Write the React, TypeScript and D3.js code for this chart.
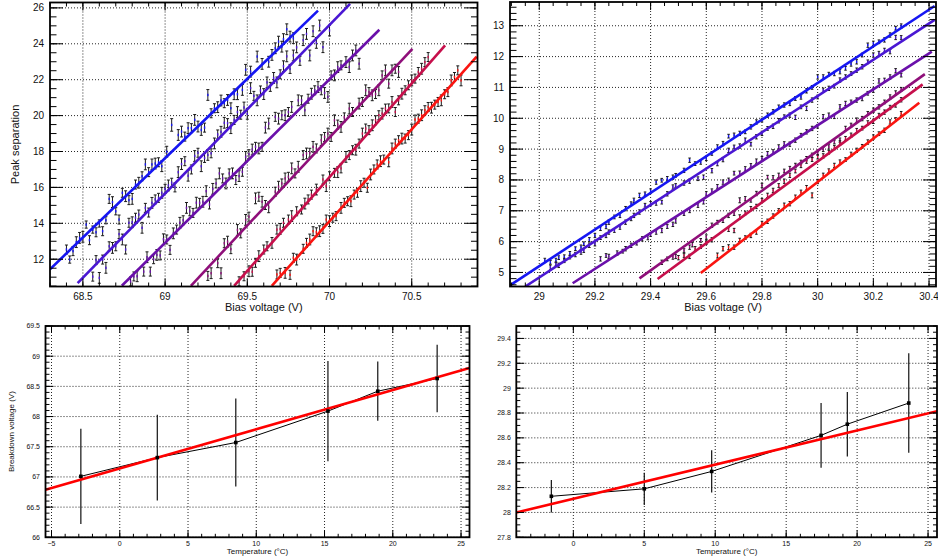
import React from "react";
import * as d3 from "d3";

type Pt = [number, number, number]; // [x, y, y-error]
type Seg = [number, number, number, number]; // fit drawn from (x0,y0) to (x1,y1)

// ---------- Device A: peak separation vs bias voltage, one series per temperature ----------
const sepA1: Pt[] = [
  [68.40,12.54,.25],[68.42,11.98,.2],[68.44,12.45,.25],[68.46,12.95,.3],[68.48,13.19,.3],[68.50,13.25,.3],[68.52,13.93,.2],[68.54,13.06,.25],[68.56,13.65,.2],[68.58,13.50,.25],
  [68.60,13.99,.2],[68.62,13.56,.25],[68.64,14.17,.2],[68.66,15.36,.25],[68.68,15.18,.3],[68.70,14.67,.2],[68.72,14.21,.25],[68.74,15.70,.25],[68.76,15.51,.3],[68.78,15.29,.25],
  [68.80,15.36,.3],[68.82,16.16,.25],[68.84,16.26,.3],[68.86,16.62,.25],[68.88,17.28,.3],[68.90,16.85,.25],[68.92,17.28,.3],[68.94,17.33,.3],[68.96,17.40,.25],[68.98,17.18,.3],
  [69.01,17.99,.3],[69.04,19.48,.35],[69.08,18.92,.3],[69.10,19.11,.3],[69.12,18.83,.25],[69.14,19.30,.3],[69.16,19.30,.25],[69.18,19.76,.3],[69.20,19.39,.3],[69.22,19.20,.3],
  [69.24,19.33,.25],[69.26,21.15,.3],[69.28,20.13,.25],[69.30,20.41,.25],[69.32,20.47,.3],[69.34,20.84,.3],[69.36,20.69,.25],[69.38,20.87,.3],[69.40,20.41,.3],[69.42,21.19,.3],
  [69.44,21.19,.3],[69.47,21.43,.3],[69.49,22.55,.3],[69.52,22.45,.3],[69.56,23.29,.3],[69.59,22.88,.3],[69.63,23.00,.3],[69.65,23.38,.3],[69.67,23.75,.3],[69.69,24.12,.3],
  [69.71,23.84,.3],[69.72,24.26,.3],[69.74,24.81,.3],[69.76,24.40,.3],[69.78,24.31,.3],
];
const sepA2: Pt[] = [
  [68.56,11.03,.25],[68.58,11.95,.25],[68.60,10.96,.3],[68.62,11.98,.25],[68.64,11.52,.3],[68.66,12.72,.25],[68.68,12.63,.3],[68.70,12.72,.25],[68.72,13.40,.25],[68.74,13.10,.3],
  [68.76,12.54,.25],[68.78,14.03,.25],[68.80,14.06,.3],[68.82,14.31,.25],[68.84,14.49,.25],[68.86,13.75,.3],[68.88,14.86,.25],[68.90,14.60,.25],[68.92,15.14,.3],[68.94,15.33,.25],
  [68.96,15.42,.25],[68.98,15.70,.3],[69.00,15.92,.25],[69.02,16.11,.3],[69.04,16.26,.25],[69.06,16.00,.25],[69.08,16.85,.3],[69.10,17.30,.3],[69.12,17.46,.25],[69.14,16.65,.3],
  [69.16,17.00,.25],[69.18,17.75,.3],[69.20,17.93,.25],[69.22,17.18,.3],[69.24,17.64,.25],[69.26,17.81,.3],[69.28,17.90,.25],[69.30,18.45,.3],[69.32,18.95,.25],[69.34,19.10,.3],
  [69.36,19.60,.3],[69.38,19.58,.25],[69.40,19.30,.3],[69.42,19.76,.25],[69.44,20.20,.3],[69.46,20.05,.25],[69.48,20.45,.3],[69.50,20.10,.3],[69.52,21.53,.3],[69.54,21.10,.25],
  [69.56,20.85,.3],[69.58,21.40,.25],[69.60,21.20,.3],[69.62,21.85,.3],[69.64,21.60,.25],[69.66,22.10,.3],[69.68,21.85,.3],[69.70,22.30,.25],[69.72,22.75,.3],[69.74,23.30,.3],
  [69.76,22.60,.25],[69.78,23.35,.3],[69.80,23.80,.3],[69.82,23.05,.25],[69.84,24.20,.3],[69.86,24.55,.3],[69.88,23.35,.3],[69.90,24.70,.3],[69.92,24.05,.3],[69.94,25.02,.3],
  [69.96,23.81,.3],[70.00,24.74,.3],
];
const sepA3: Pt[] = [
  [68.79,10.76,.25],[68.81,11.04,.25],[68.83,11.05,.3],[68.87,11.31,.25],[68.89,12.11,.3],[68.91,11.31,.25],[68.93,12.00,.25],[68.95,12.24,.3],[68.97,12.21,.25],[68.99,13.11,.3],
  [69.01,13.10,.25],[69.03,12.52,.25],[69.05,13.44,.3],[69.07,13.65,.25],[69.09,14.03,.3],[69.11,14.17,.25],[69.13,14.86,.3],[69.15,14.67,.25],[69.17,14.58,.25],[69.19,15.15,.3],
  [69.21,15.14,.25],[69.23,15.20,.3],[69.25,15.79,.3],[69.27,15.05,.25],[69.29,15.92,.3],[69.31,16.22,.25],[69.33,16.78,.3],[69.35,16.50,.25],[69.37,16.22,.3],[69.39,16.78,.25],
  [69.41,16.78,.3],[69.43,16.41,.25],[69.45,16.63,.3],[69.47,16.87,.25],[69.49,17.70,.3],[69.51,17.85,.25],[69.53,18.11,.3],[69.55,18.26,.25],[69.57,18.17,.3],[69.59,18.26,.25],
  [69.61,19.33,.3],[69.63,19.56,.3],[69.67,19.93,.25],[69.69,19.83,.3],[69.71,20.02,.25],[69.73,20.02,.3],[69.75,20.20,.25],[69.77,20.48,.3],[69.81,20.85,.3],[69.83,20.85,.25],
  [69.85,20.30,.3],[69.87,20.94,.25],[69.89,21.22,.3],[69.91,21.41,.25],[69.93,21.59,.3],[69.95,21.41,.25],[69.97,21.26,.3],[69.99,21.04,.3],[70.01,22.24,.25],[70.03,22.24,.3],
  [70.05,22.70,.3],[70.07,22.80,.25],[70.10,22.98,.3],[70.12,22.70,.3],[70.14,23.35,.3],[70.16,23.63,.3],[70.18,22.89,.3],
];
const sepA4: Pt[] = [
  [69.26,11.07,.25],[69.28,11.22,.3],[69.32,11.78,.25],[69.34,11.22,.3],[69.36,12.89,.25],[69.38,12.98,.3],[69.40,12.56,.25],[69.44,13.63,.3],[69.46,13.44,.25],[69.49,14.19,.3],
  [69.51,14.37,.25],[69.55,15.39,.3],[69.57,15.48,.25],[69.59,15.20,.3],[69.61,15.02,.25],[69.63,14.89,.3],[69.67,15.76,.25],[69.69,16.04,.3],[69.71,16.22,.25],[69.73,16.50,.3],
  [69.75,16.59,.25],[69.77,17.06,.3],[69.79,16.78,.25],[69.81,17.15,.3],[69.84,17.80,.25],[69.86,17.89,.3],[69.88,17.93,.25],[69.90,18.26,.3],[69.92,18.17,.25],[69.95,18.63,.3],
  [69.97,18.81,.25],[69.99,19.00,.3],[70.01,18.81,.25],[70.03,19.74,.3],[70.05,19.50,.25],[70.07,19.37,.3],[70.09,19.90,.25],[70.12,20.39,.3],[70.14,20.20,.25],[70.18,20.67,.3],
  [70.20,20.76,.25],[70.22,21.41,.3],[70.24,21.31,.25],[70.26,21.13,.3],[70.28,21.20,.25],[70.30,21.41,.3],[70.32,22.24,.25],[70.34,22.52,.3],[70.36,21.78,.25],[70.38,22.52,.3],
  [70.40,22.61,.25],[70.42,22.43,.3],
];
const sepA5: Pt[] = [
  [69.45,10.77,.25],[69.48,11.05,.25],[69.51,11.33,.3],[69.53,11.30,.25],[69.55,11.80,.25],[69.57,12.17,.3],[69.60,12.54,.25],[69.62,12.72,.25],[69.65,12.91,.3],[69.68,13.65,.25],
  [69.70,13.69,.3],[69.72,14.03,.25],[69.75,14.21,.25],[69.77,14.40,.3],[69.80,14.67,.25],[69.83,14.77,.25],[69.85,15.10,.3],[69.87,15.33,.25],[69.89,15.60,.25],[69.92,15.88,.3],
  [69.96,16.44,.25],[69.98,16.07,.3],[70.00,16.62,.25],[70.03,16.81,.25],[70.05,16.85,.3],[70.07,17.06,.25],[70.10,17.70,.3],[70.12,17.80,.25],[70.14,18.07,.25],[70.16,18.10,.3],
  [70.18,18.44,.25],[70.20,19.00,.3],[70.22,19.28,.25],[70.24,19.19,.25],[70.26,19.46,.3],[70.28,19.74,.25],[70.30,20.02,.25],[70.32,20.11,.3],[70.34,20.39,.25],[70.36,20.40,.25],
  [70.38,20.76,.3],[70.40,20.20,.25],[70.42,20.85,.25],[70.44,21.22,.3],[70.46,21.41,.25],[70.48,21.69,.25],[70.50,21.96,.3],[70.52,22.06,.25],[70.54,22.43,.25],[70.56,22.61,.3],
  [70.58,22.98,.25],[70.60,23.26,.25],
];
const sepA6: Pt[] = [
  [69.68,11.15,.25],[69.70,11.24,.25],[69.73,11.24,.3],[69.76,11.13,.25],[69.78,12.08,.25],[69.80,11.98,.3],[69.84,12.58,.25],[69.86,12.91,.25],[69.88,13.10,.3],[69.90,13.56,.25],
  [69.92,13.50,.25],[69.94,13.56,.3],[69.96,13.69,.25],[69.98,14.21,.25],[70.00,14.12,.3],[70.02,14.31,.25],[70.04,14.40,.25],[70.07,14.86,.3],[70.09,15.14,.25],[70.11,15.23,.25],
  [70.13,15.23,.3],[70.15,15.60,.25],[70.17,15.70,.25],[70.19,16.07,.3],[70.21,16.26,.25],[70.23,15.98,.25],[70.25,16.72,.3],[70.27,17.00,.25],[70.29,17.28,.25],[70.31,17.46,.3],
  [70.33,17.55,.25],[70.36,17.40,.25],[70.38,18.17,.3],[70.40,18.44,.25],[70.42,18.63,.25],[70.44,18.72,.3],[70.46,18.72,.25],[70.48,18.91,.25],[70.50,19.22,.3],[70.52,19.78,.25],
  [70.54,19.83,.25],[70.56,20.02,.3],[70.58,20.30,.25],[70.60,20.48,.25],[70.62,20.44,.3],[70.64,20.61,.25],[70.66,20.76,.25],[70.68,20.85,.3],[70.70,21.19,.25],[70.72,21.31,.25],
  [70.74,21.96,.3],[70.76,22.15,.25],[70.78,22.52,.25],[70.80,21.96,.3],
];
const fitsA: Seg[] = [
  [68.30, 11.44, 69.93, 25.85],
  [68.468, 10.67, 70.125, 26.22],
  [68.737, 10.52, 70.303, 24.78],
  [69.157, 10.52, 70.504, 23.72],
  [69.42, 10.52, 70.703, 23.91],
  [69.649, 10.52, 70.895, 23.28],
];

// ---------- Device B: peak separation vs bias voltage ----------
const sepB1: Pt[] = [
  [29.02,5.39,.07],[29.04,5.33,.06],[29.06,5.39,.07],[29.07,5.48,.06],[29.09,5.50,.07],[29.11,5.61,.07],[29.13,5.77,.06],[29.15,5.82,.07],[29.16,5.93,.06],[29.18,6.06,.07],
  [29.20,6.20,.07],[29.22,6.42,.06],[29.24,6.49,.07],[29.25,6.63,.07],[29.27,6.80,.06],[29.29,6.85,.07],[29.31,7.07,.07],[29.33,7.23,.06],[29.34,7.34,.07],[29.36,7.50,.07],
  [29.38,7.55,.06],[29.40,7.64,.07],[29.42,7.93,.07],[29.44,7.99,.06],[29.46,8.04,.07],[29.48,8.09,.07],[29.49,8.15,.06],[29.52,8.31,.07],[29.54,8.64,.07],[29.56,8.53,.06],
  [29.58,8.58,.07],[29.60,8.70,.07],[29.62,8.86,.06],[29.64,9.07,.07],[29.66,9.18,.07],[29.68,9.42,.06],[29.70,9.45,.07],[29.72,9.51,.07],[29.74,9.56,.06],[29.76,9.72,.07],
  [29.78,9.88,.07],[29.80,9.94,.06],[29.82,10.10,.07],[29.84,10.21,.07],[29.86,10.37,.06],[29.88,10.43,.07],[29.90,10.48,.07],[29.92,10.64,.06],[29.94,10.69,.07],[29.96,10.89,.07],
  [29.98,11.00,.06],[30.00,11.34,.07],[30.02,11.34,.07],[30.04,11.43,.06],[30.06,11.45,.07],[30.08,11.51,.07],[30.10,11.62,.06],[30.12,11.76,.07],[30.14,11.83,.07],[30.16,12.05,.06],
  [30.18,12.37,.07],[30.20,12.43,.07],[30.22,12.48,.06],[30.24,12.54,.07],[30.26,12.70,.07],[30.28,12.92,.06],[30.30,12.99,.07],
];
const sepB2: Pt[] = [
  [29.04,5.17,.07],[29.06,5.28,.06],[29.07,5.23,.07],[29.09,5.39,.07],[29.11,5.50,.06],[29.13,5.58,.07],[29.15,5.66,.07],[29.16,5.71,.06],[29.18,5.88,.07],[29.20,5.93,.07],
  [29.22,6.13,.06],[29.24,6.20,.07],[29.25,6.31,.07],[29.27,6.36,.06],[29.29,6.47,.07],[29.31,6.63,.07],[29.33,6.74,.06],[29.34,6.85,.07],[29.36,6.96,.07],[29.38,7.18,.06],
  [29.40,7.23,.07],[29.42,7.25,.07],[29.44,7.28,.06],[29.46,7.55,.07],[29.48,7.77,.07],[29.49,7.82,.06],[29.52,7.90,.07],[29.54,7.96,.07],[29.57,8.04,.06],[29.59,8.09,.07],
  [29.62,8.30,.07],[29.64,8.52,.06],[29.66,8.66,.07],[29.68,8.96,.07],[29.70,9.07,.06],[29.72,9.10,.07],[29.74,9.29,.07],[29.76,9.16,.06],[29.78,9.40,.07],[29.80,9.51,.07],
  [29.82,9.67,.06],[29.84,9.74,.07],[29.86,9.92,.07],[29.88,10.05,.06],[29.90,10.10,.07],[29.92,10.03,.07],[29.94,10.37,.06],[29.96,10.32,.07],[29.98,10.59,.07],[30.00,10.69,.06],
  [30.02,10.91,.07],[30.04,10.97,.07],[30.06,11.04,.06],[30.08,11.24,.07],[30.10,11.34,.07],[30.12,11.45,.06],[30.14,11.56,.07],[30.16,11.67,.07],[30.18,11.83,.06],[30.20,12.05,.07],
  [30.22,12.10,.07],[30.24,12.21,.06],[30.26,12.16,.07],[30.28,12.62,.07],[30.30,12.62,.06],
];
const sepB3: Pt[] = [
  [29.22,5.44,.07],[29.24,5.55,.06],[29.25,5.52,.07],[29.28,5.63,.07],[29.30,5.69,.06],[29.31,5.77,.07],[29.33,5.88,.07],[29.35,5.95,.06],[29.37,6.09,.07],[29.39,6.13,.07],
  [29.40,6.23,.06],[29.42,6.31,.07],[29.44,6.36,.07],[29.46,6.49,.06],[29.48,6.56,.07],[29.49,6.67,.07],[29.52,6.91,.06],[29.54,7.01,.07],[29.57,7.18,.07],[29.59,7.28,.06],
  [29.60,7.55,.07],[29.62,7.64,.07],[29.64,7.79,.06],[29.66,7.93,.07],[29.68,7.99,.07],[29.70,8.22,.06],[29.72,8.22,.07],[29.74,8.36,.07],[29.76,8.47,.06],[29.78,8.61,.07],
  [29.80,8.69,.07],[29.82,8.86,.06],[29.84,8.91,.07],[29.86,9.07,.07],[29.88,9.18,.06],[29.90,9.16,.07],[29.92,9.29,.07],[29.94,9.45,.06],[29.96,9.56,.07],[29.98,9.67,.07],
  [30.00,9.74,.06],[30.02,10.05,.07],[30.04,10.10,.07],[30.06,10.05,.06],[30.08,10.37,.07],[30.10,10.48,.07],[30.12,10.53,.06],[30.14,10.59,.07],[30.16,10.64,.07],[30.18,10.81,.06],
  [30.20,10.91,.07],[30.22,11.21,.07],[30.24,11.24,.06],[30.26,11.34,.07],[30.28,11.54,.07],[30.30,11.40,.06],
];
const sepB4: Pt[] = [
  [29.44,5.33,.07],[29.46,5.44,.06],[29.48,5.50,.07],[29.49,5.52,.07],[29.52,5.71,.06],[29.54,5.82,.07],[29.55,5.90,.07],[29.58,6.04,.06],[29.60,6.15,.07],[29.62,6.53,.07],
  [29.64,6.63,.06],[29.66,6.69,.07],[29.68,6.85,.07],[29.70,6.91,.06],[29.72,7.34,.08],[29.74,7.39,.07],[29.76,7.34,.06],[29.78,7.56,.07],[29.80,7.82,.07],[29.82,8.09,.06],
  [29.84,8.07,.07],[29.86,8.15,.07],[29.88,8.29,.06],[29.90,8.37,.07],[29.92,8.47,.07],[29.94,8.58,.06],[29.96,8.69,.07],[29.98,8.80,.07],[30.00,8.86,.06],[30.02,8.99,.07],
  [30.04,9.07,.07],[30.06,9.23,.06],[30.08,9.29,.07],[30.10,9.67,.07],[30.12,9.78,.06],[30.14,9.94,.07],[30.16,9.99,.07],[30.18,10.16,.06],[30.20,10.26,.07],[30.22,10.37,.07],
  [30.24,10.53,.06],[30.26,10.69,.07],[30.28,10.82,.07],[30.30,10.94,.06],
];
const sepB5: Pt[] = [
  [29.50,5.48,.07],[29.52,5.55,.06],[29.54,5.52,.07],[29.56,5.77,.07],[29.58,5.84,.06],[29.60,5.98,.07],[29.62,6.06,.07],[29.68,6.39,.06],[29.70,6.36,.07],[29.72,6.80,.07],
  [29.74,6.93,.06],[29.76,7.07,.07],[29.78,7.14,.07],[29.80,7.34,.06],[29.82,7.50,.07],[29.84,7.66,.07],[29.86,7.82,.06],[29.88,7.96,.07],[29.90,8.15,.07],[29.92,8.29,.06],
  [29.94,8.47,.07],[29.96,8.61,.07],[29.98,8.66,.06],[30.00,8.75,.07],[30.02,8.78,.07],[30.04,8.90,.06],[30.06,9.05,.07],[30.08,9.20,.07],[30.10,9.35,.06],[30.12,9.45,.07],
  [30.14,9.60,.07],[30.16,9.68,.06],[30.18,9.85,.07],[30.20,9.90,.07],[30.22,10.10,.06],[30.24,10.20,.07],[30.26,10.35,.07],[30.28,10.42,.06],[30.30,10.60,.07],
];
const sepB6: Pt[] = [
  [29.64,5.55,.08],[29.66,5.77,.07],[29.68,5.82,.08],[29.70,5.82,.07],[29.72,6.04,.07],[29.74,6.13,.06],[29.76,6.20,.07],[29.78,6.31,.07],[29.80,6.60,.06],[29.82,6.66,.07],
  [29.84,6.83,.07],[29.86,7.01,.06],[29.88,7.18,.07],[29.90,7.23,.07],[29.92,7.45,.06],[29.94,7.60,.07],[29.96,7.75,.07],[29.98,7.50,.08],[30.00,7.95,.07],[30.02,8.15,.07],
  [30.04,8.30,.06],[30.06,8.47,.07],[30.08,8.58,.07],[30.10,8.66,.06],[30.12,8.83,.07],[30.14,8.96,.07],[30.16,9.09,.06],[30.18,9.23,.07],[30.20,9.39,.07],[30.22,9.50,.06],
  [30.24,9.61,.07],[30.26,9.88,.07],[30.28,9.96,.06],[30.30,10.15,.07],
];
const fitsB: Seg[] = [
  [28.895, 4.58, 30.42, 13.64],
  [28.95, 4.545, 30.42, 13.19],
  [29.12, 4.65, 30.41, 12.16],
  [29.36, 4.81, 30.385, 11.43],
  [29.425, 4.79, 30.377, 11.10],
  [29.58, 4.98, 30.365, 10.50],
];

const seriesColors = ["#1616f2", "#4a17d3", "#6a10aa", "#8f0f7a", "#c60f4b", "#fa1410"];

// ---------- Breakdown voltage vs temperature ----------
const tempA = [-2.85, 2.75, 8.5, 15.25, 18.9, 23.25];
const vbdA = [67.01, 67.32, 67.57, 68.09, 68.42, 68.63];
const vbdErrA = [0.79, 0.71, 0.73, 0.83, 0.49, 0.56];
const vbdFitA = { intercept: 67.14, slope: 0.065 };

const tempB = [-1.55, 5.0, 9.75, 17.46, 19.31, 23.64];
const vbdB = [28.13, 28.19, 28.33, 28.62, 28.71, 28.88];
const vbdErrB = [0.13, 0.13, 0.17, 0.26, 0.26, 0.4];
const vbdFitB = { intercept: 28.11, slope: 0.0275 };

// ---------- Axis tick labels ----------
const ticksA_x = [68.5, 69, 69.5, 70, 70.5];
const ticksA_y = [12, 14, 16, 18, 20, 22, 24, 26];
const ticksB_x = [29, 29.2, 29.4, 29.6, 29.8, 30, 30.2, 30.4];
const ticksB_y = [5, 6, 7, 8, 9, 10, 11, 12, 13];
const ticksC_x = [-5, 0, 5, 10, 15, 20, 25];
const ticksC_y = [66, 66.5, 67, 67.5, 68, 68.5, 69, 69.5];
const ticksD_x = [0, 5, 10, 15, 20, 25];
const ticksD_y = [27.8, 28, 28.2, 28.4, 28.6, 28.8, 29, 29.2, 29.4];

const FONT = "'Liberation Sans', Arial, Helvetica, sans-serif";
const INK = "#111111";

interface Box { l: number; t: number; r: number; b: number; }
interface PanelSpec {
  id: string;
  box: Box;
  xDom: [number, number];
  yDom: [number, number];
  xMajor: number[];
  xMinor: number;
  yMajor: number[];
  yMinor: number;
  xLen: [number, number];
  yLen: [number, number];
  fs: number;
  xLabDy: number;
  yLabGap: number;
  xTitle: string;
  yTitle?: string;
  tfs: number;
  xTitleY: number;
  yTitleX?: number;
}

const fmt = (v: number) => {
  const s = String(Math.round(v * 1000) / 1000);
  return s.startsWith("-") ? "\u2212" + s.slice(1) : s;
};

const minorVals = (dom: [number, number], step: number) => {
  const a = Math.ceil(dom[0] / step - 1e-6);
  const b = Math.floor(dom[1] / step + 1e-6);
  return d3.range(a, b + 1).map((i) => i * step);
};

function makeScales(s: PanelSpec) {
  const x = d3.scaleLinear().domain(s.xDom).range([s.box.l, s.box.r]);
  const y = d3.scaleLinear().domain(s.yDom).range([s.box.b, s.box.t]);
  return { x, y };
}

function Grid({ s }: { s: PanelSpec }) {
  const { x, y } = makeScales(s);
  const { box } = s;
  return (
    <g stroke="#000" strokeWidth={1} strokeDasharray="1 2" opacity={0.85}>
      {s.xMajor.map((v) => (
        <line key={"gx" + v} x1={x(v)} x2={x(v)} y1={box.t} y2={box.b} />
      ))}
      {s.yMajor.map((v) => (
        <line key={"gy" + v} x1={box.l} x2={box.r} y1={y(v)} y2={y(v)} />
      ))}
    </g>
  );
}

function Axes({ s }: { s: PanelSpec }) {
  const { x, y } = makeScales(s);
  const { box } = s;
  const mx = minorVals(s.xDom, s.xMinor);
  const my = minorVals(s.yDom, s.yMinor);
  const cx = (box.l + box.r) / 2;
  const cy = (box.t + box.b) / 2;
  return (
    <g>
      <g stroke="#000" strokeWidth={1}>
        {mx.map((v) => (
          <g key={"mx" + v}>
            <line x1={x(v)} x2={x(v)} y1={box.b} y2={box.b - s.xLen[1]} />
            <line x1={x(v)} x2={x(v)} y1={box.t} y2={box.t + s.xLen[1]} />
          </g>
        ))}
        {s.xMajor.map((v) => (
          <g key={"Mx" + v}>
            <line x1={x(v)} x2={x(v)} y1={box.b} y2={box.b - s.xLen[0]} />
            <line x1={x(v)} x2={x(v)} y1={box.t} y2={box.t + s.xLen[0]} />
          </g>
        ))}
        {my.map((v) => (
          <g key={"my" + v}>
            <line x1={box.l} x2={box.l + s.yLen[1]} y1={y(v)} y2={y(v)} />
            <line x1={box.r} x2={box.r - s.yLen[1]} y1={y(v)} y2={y(v)} />
          </g>
        ))}
        {s.yMajor.map((v) => (
          <g key={"My" + v}>
            <line x1={box.l} x2={box.l + s.yLen[0]} y1={y(v)} y2={y(v)} />
            <line x1={box.r} x2={box.r - s.yLen[0]} y1={y(v)} y2={y(v)} />
          </g>
        ))}
      </g>
      <rect x={box.l} y={box.t} width={box.r - box.l} height={box.b - box.t} fill="none" stroke="#000" strokeWidth={1.8} />
      <g fontFamily={FONT} fontSize={s.fs}>
        {s.xMajor.map((v) => (
          <text key={"lx" + v} x={x(v)} y={box.b + s.xLabDy} textAnchor="middle" fill={INK}>
            {fmt(v)}
          </text>
        ))}
        {s.yMajor.map((v) => (
          <text key={"ly" + v} x={box.l - s.yLabGap} y={y(v)} dy="0.35em" textAnchor="end" fill={INK}>
            {fmt(v)}
          </text>
        ))}
      </g>
      <g fontFamily={FONT} fontSize={s.tfs}>
        <text x={cx} y={s.xTitleY} textAnchor="middle" fill={INK}>
          {s.xTitle}
        </text>
        {s.yTitle && s.yTitleX !== undefined && (
          <text transform={`translate(${s.yTitleX},${cy}) rotate(-90)`} textAnchor="middle" fill={INK}>
            {s.yTitle}
          </text>
        )}
      </g>
    </g>
  );
}

function ScanPanel({ s, series, fits, cap }: { s: PanelSpec; series: Pt[][]; fits: Seg[]; cap: number }) {
  const { x, y } = makeScales(s);
  const { box } = s;
  const clip = "clip-" + s.id;
  return (
    <g>
      <defs>
        <clipPath id={clip}>
          <rect x={box.l} y={box.t} width={box.r - box.l} height={box.b - box.t} />
        </clipPath>
      </defs>
      <Grid s={s} />
      <g clipPath={`url(#${clip})`}>
        {series.map((pts, si) => (
          <g key={"s" + si}>
            {pts.map(([v, p, e], i) => {
              const px = x(v);
              const y0 = y(p - e);
              const y1 = y(p + e);
              return (
                <g key={i}>
                  <line x1={px} x2={px} y1={y0} y2={y1} stroke="#1a1a1a" strokeWidth={1} />
                  <line x1={px - cap} x2={px + cap} y1={y0} y2={y0} stroke="#1a1a1a" strokeWidth={1} />
                  <line x1={px - cap} x2={px + cap} y1={y1} y2={y1} stroke="#1a1a1a" strokeWidth={1} />
                  <rect x={px - 0.7} y={y(p) - 1.2} width={1.4} height={2.4} fill={seriesColors[si]} />
                </g>
              );
            })}
          </g>
        ))}
        {fits.map(([v0, p0, v1, p1], i) => (
          <line key={"f" + i} x1={x(v0)} y1={y(p0)} x2={x(v1)} y2={y(p1)} stroke={seriesColors[i]} strokeWidth={2.6} />
        ))}
      </g>
      <Axes s={s} />
    </g>
  );
}

function BreakdownPanel({ s, t, v, err, fit }: { s: PanelSpec; t: number[]; v: number[]; err: number[]; fit: { intercept: number; slope: number } }) {
  const { x, y } = makeScales(s);
  const { box } = s;
  const clip = "clip-" + s.id;
  const path = d3.line<number>().x((_, i) => x(t[i])).y((d) => y(d))(v) || "";
  const f = (tt: number) => fit.intercept + fit.slope * tt;
  return (
    <g>
      <defs>
        <clipPath id={clip}>
          <rect x={box.l} y={box.t} width={box.r - box.l} height={box.b - box.t} />
        </clipPath>
      </defs>
      <Grid s={s} />
      <g clipPath={`url(#${clip})`}>
        {t.map((tt, i) => (
          <line key={"e" + i} x1={x(tt)} x2={x(tt)} y1={y(v[i] - err[i])} y2={y(v[i] + err[i])} stroke="#111" strokeWidth={1.2} />
        ))}
        <path d={path} fill="none" stroke="#000" strokeWidth={1} />
        <line x1={x(s.xDom[0])} y1={y(f(s.xDom[0]))} x2={x(s.xDom[1])} y2={y(f(s.xDom[1]))} stroke="#ff0000" strokeWidth={2.6} />
        {t.map((tt, i) => (
          <rect key={"m" + i} x={x(tt) - 1.8} y={y(v[i]) - 1.8} width={3.6} height={3.6} fill="#000" />
        ))}
      </g>
      <Axes s={s} />
    </g>
  );
}

const panelA: PanelSpec = {
  id: "a",
  box: { l: 50, t: 2.5, r: 477.5, b: 286.5 },
  xDom: [68.3, 70.9],
  yDom: [10.48, 26.3],
  xMajor: ticksA_x,
  xMinor: 0.1,
  yMajor: ticksA_y,
  yMinor: 0.5,
  xLen: [8, 4],
  yLen: [13, 6.5],
  fs: 10,
  xLabDy: 13.5,
  yLabGap: 6,
  xTitle: "Bias voltage (V)",
  yTitle: "Peak separation",
  tfs: 11,
  xTitleY: 311,
  yTitleX: 19,
};

const panelB: PanelSpec = {
  id: "b",
  box: { l: 510, t: 2, r: 936, b: 286.5 },
  xDom: [28.895, 30.425],
  yDom: [4.545, 13.77],
  xMajor: ticksB_x,
  xMinor: 0.05,
  yMajor: ticksB_y,
  yMinor: 0.2,
  xLen: [8, 4],
  yLen: [13, 6.5],
  fs: 10,
  xLabDy: 13,
  yLabGap: 6,
  xTitle: "Bias voltage (V)",
  tfs: 11,
  xTitleY: 311,
};

const panelC: PanelSpec = {
  id: "c",
  box: { l: 45.5, t: 326, r: 469.5, b: 537.3 },
  xDom: [-5.44, 25.62],
  yDom: [66, 69.5],
  xMajor: ticksC_x,
  xMinor: 1,
  yMajor: ticksC_y,
  yMinor: 0.1,
  xLen: [7, 3.5],
  yLen: [8, 4],
  fs: 7,
  xLabDy: 8.3,
  yLabGap: 5.5,
  xTitle: "Temperature (\u00b0C)",
  yTitle: "Breakdown voltage (V)",
  tfs: 8,
  xTitleY: 553.5,
  yTitleX: 13.5,
};

const panelD: PanelSpec = {
  id: "d",
  box: { l: 516.3, t: 326, r: 937, b: 537.3 },
  xDom: [-4.02, 25.63],
  yDom: [27.8, 29.5],
  xMajor: ticksD_x,
  xMinor: 1,
  yMajor: ticksD_y,
  yMinor: 0.05,
  xLen: [7, 3.5],
  yLen: [8, 4],
  fs: 7,
  xLabDy: 8.3,
  yLabGap: 5.5,
  xTitle: "Temperature (\u00b0C)",
  tfs: 8,
  xTitleY: 553.5,
};

export default function App() {
  return (
    <svg
      width={938}
      height={560}
      viewBox="0 0 938 560"
      style={{ position: "absolute", left: 0, top: 0, background: "#fff" }}
    >
      <rect x={0} y={0} width={938} height={560} fill="#fff" />
      <ScanPanel s={panelA} series={[sepA1, sepA2, sepA3, sepA4, sepA5, sepA6]} fits={fitsA} cap={1.5} />
      <ScanPanel s={panelB} series={[sepB1, sepB2, sepB3, sepB4, sepB5, sepB6]} fits={fitsB} cap={1.3} />
      <BreakdownPanel s={panelC} t={tempA} v={vbdA} err={vbdErrA} fit={vbdFitA} />
      <BreakdownPanel s={panelD} t={tempB} v={vbdB} err={vbdErrB} fit={vbdFitB} />
    </svg>
  );
}
